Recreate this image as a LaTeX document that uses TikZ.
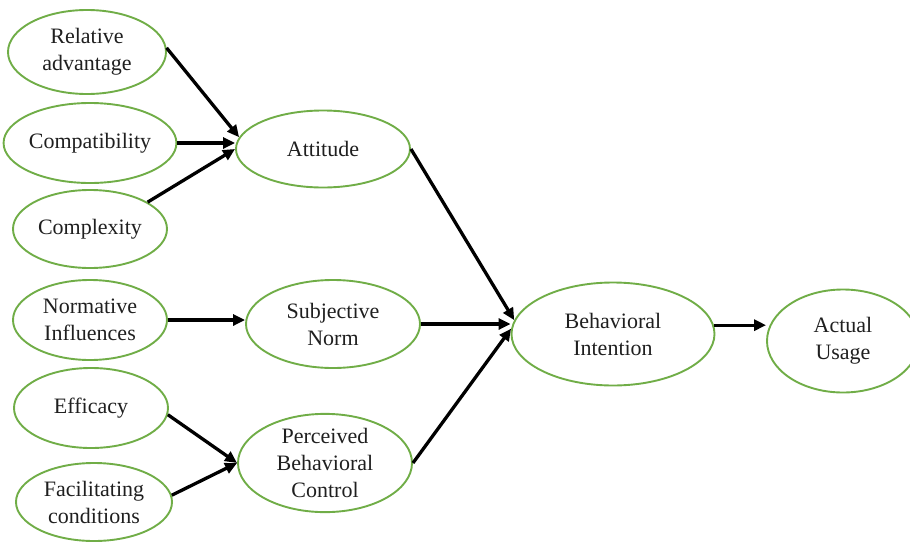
\documentclass[tikz,border=0pt]{standalone}
\usepackage{fontspec}
\setmainfont{Liberation Serif}
\usetikzlibrary{shapes.geometric,arrows.meta}
\definecolor{ovalgreen}{RGB}{112,173,71}
\tikzset{
  oval/.style={ellipse, draw=ovalgreen, line width=1.9pt, inner sep=0pt, align=center,
    font=\fontsize{22}{27}\selectfont, text=black!88},
  arr/.style={line width=3.3pt, -{Triangle[length=12pt,width=11pt]}}
}
\begin{document}
\begin{tikzpicture}[x=1pt,y=-1pt]
\useasboundingbox (0,0) rectangle (910,541);
\node[oval, minimum width=158pt, minimum height=84pt] (ra) at (87,52) {Relative\\advantage};
\node[oval, minimum width=164pt, minimum height=80pt] (comp) at (90,143) {Compatibility};
\node[oval, minimum width=154pt, minimum height=78pt] (cplx) at (90,229) {Complexity};
\node[oval, minimum width=174pt, minimum height=77pt] (att) at (323,149) {Attitude};
\node[oval, minimum width=154pt, minimum height=80pt] (ni) at (90,320) {Normative\\Influences};
\node[oval, minimum width=174pt, minimum height=88pt] (sn) at (333,324) {Subjective\\Norm};
\node[oval, minimum width=154pt, minimum height=80pt] (eff) at (91,408) {Efficacy};
\node[oval, minimum width=156pt, minimum height=78pt] (fc) at (94,502) {Facilitating\\conditions};
\node[oval, minimum width=174pt, minimum height=87pt] (pbc) at (325,463) {Perceived\\Behavioral\\Control};
\node[oval, minimum width=203pt, minimum height=103pt] (bi) at (613,334) {Behavioral\\Intention};
\node[oval, minimum width=152pt, minimum height=103pt] (au) at (843,341) {Actual\\Usage};

\draw[arr] (ra.3) -- (att.172);
\draw[arr] (comp.east) -- (comp.east -| att.west);
\draw[arr] (cplx.25) -- (att.west);
\draw[arr] (ni.east) -- (ni.east -| sn.west);
\draw[arr] (eff.-5) -- (pbc.west);
\draw[arr] (fc.5) -- (pbc.west);
\draw[arr] (att.east) -- (bi.172);
\draw[arr] (sn.east) -- (sn.east -| bi.west);
\draw[arr] (pbc.east) -- (bi.177);
\draw[arr] (bi.5) -- (bi.5 -| au.west);
\end{tikzpicture}
\end{document}
